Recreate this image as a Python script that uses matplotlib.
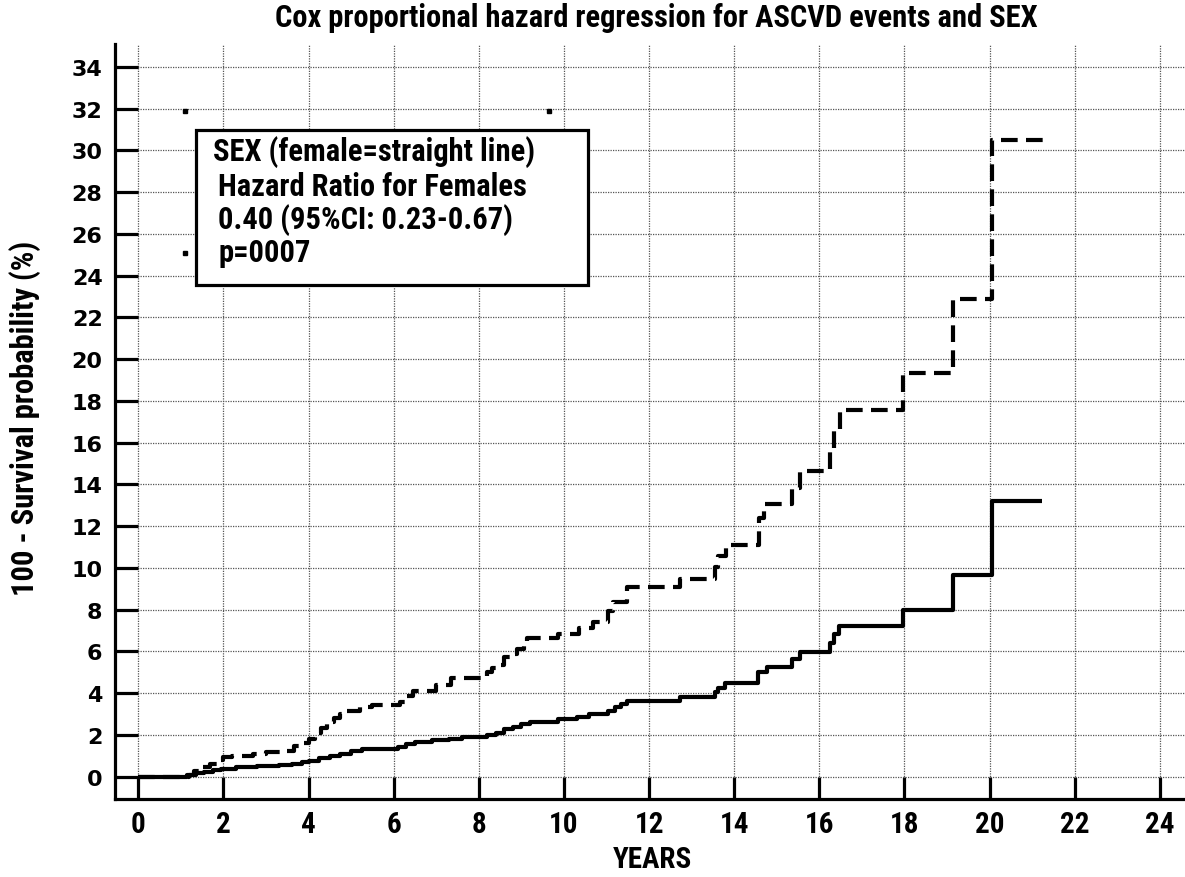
import matplotlib
matplotlib.use("Agg")
import matplotlib.pyplot as plt
from matplotlib.patches import Rectangle

# ---- data ----
female_t = [0, 1.15, 1.35, 1.55, 1.75, 1.95, 2.3, 2.8, 3.3, 3.6, 3.85, 4.0, 4.25, 4.5, 4.75,
            5.0, 5.25, 6.1, 6.3, 6.5, 6.9, 7.3, 7.6, 8.2, 8.4, 8.6, 8.8, 9.0, 9.2, 9.86,
            10.3, 10.6, 11.03, 11.2, 11.35, 11.48, 12.72, 13.55, 13.62, 13.78, 14.56,
            14.77, 15.35, 15.54, 16.25, 16.34, 16.45, 17.96, 19.14, 20.05, 21.22]
female_y = [0, 0.08, 0.16, 0.24, 0.31, 0.37, 0.45, 0.5, 0.55, 0.63, 0.7, 0.77, 0.9, 1.0, 1.1,
            1.25, 1.33, 1.42, 1.55, 1.66, 1.75, 1.81, 1.9, 2.0, 2.1, 2.3, 2.4, 2.5, 2.62, 2.77,
            2.88, 3.0, 3.16, 3.34, 3.5, 3.64, 3.8, 4.05, 4.24, 4.49, 5.03,
            5.27, 5.64, 5.99, 6.39, 6.84, 7.24, 7.99, 9.68, 13.23, 13.23]

male_t = [0, 1.2, 1.3, 1.5, 1.68, 1.85, 2.0, 2.2, 2.7, 3.0, 3.5, 3.65, 3.8, 4.0, 4.15, 4.3,
          4.44, 4.6, 4.75, 4.9, 5.2, 5.5, 6.15, 6.3, 6.45, 7.0, 7.35, 8.2, 8.3, 8.5, 8.6,
          8.75, 8.9, 9.05, 9.13, 9.86, 10.35, 10.68, 11.03, 11.15, 11.48, 12.72, 13.55,
          13.62, 13.8, 14.58, 14.7, 15.35, 15.54, 16.25, 16.35, 16.48, 17.96, 19.14, 20.05, 21.25]
male_y = [0, 0.1, 0.29, 0.45, 0.61, 0.8, 0.94, 1.0, 1.09, 1.2, 1.25, 1.45, 1.6, 1.81, 2.1, 2.35,
          2.62, 2.8, 3.0, 3.16, 3.35, 3.44, 3.57, 3.85, 4.1, 4.4, 4.72, 5.0, 5.2, 5.35, 5.72,
          5.9, 6.12, 6.4, 6.63, 6.85, 7.12, 7.43, 7.96, 8.39, 9.08, 9.48, 10.04,
          10.57, 11.1, 12.4, 13.07, 13.85, 14.62, 15.55, 16.57, 17.55, 19.35, 22.9, 30.49, 30.49]

x_ticks = list(range(0, 25, 2))
y_ticks = list(range(0, 35, 2))

handle_x = [1.1, 9.65, 1.1, 9.65]
handle_y = [31.87, 31.87, 25.1, 25.1]

title = "Cox proportional hazard regression for ASCVD events and SEX"
xlabel = "YEARS"
ylabel = "100 - Survival probability (%)"
box_lines = ["SEX (female=straight line)", "Hazard Ratio for Females",
             "0.40 (95%CI: 0.23-0.67)", "p=0007"]

# ---- fonts ----
COND = ['Roboto Condensed', 'Liberation Sans Narrow', 'Roboto', 'DejaVu Sans']
WIDE = ['DejaVu Sans']

fig = plt.figure(figsize=(11.85, 8.78), dpi=100)
ax = fig.add_axes([115/1185, 1 - 800/878, 1 - 115/1185, (800 - 45)/878])

ax.set_xlim(-0.547, 24.59)
ax.set_ylim(-1.07, 35.1)

ax.set_xticks(x_ticks)
ax.set_yticks(y_ticks)
ax.grid(True, linestyle=(0, (1, 1)), color='#555555', linewidth=0.9)
ax.set_axisbelow(True)

for s in ['top', 'right']:
    ax.spines[s].set_visible(False)
for s in ['left', 'bottom']:
    ax.spines[s].set_linewidth(2.3)
    ax.spines[s].set_color('black')

ax.tick_params(axis='both', direction='in', length=16.2, width=2.3, color='black')
for lab in ax.get_xticklabels():
    lab.set_fontfamily(COND)
    lab.set_fontweight('bold')
    lab.set_fontsize(21)
for lab in ax.get_yticklabels():
    lab.set_fontfamily(WIDE)
    lab.set_fontweight('bold')
    lab.set_fontsize(16)
ax.tick_params(axis='y', pad=9)
ax.tick_params(axis='x', pad=8)

ax.step(female_t, female_y, where='post', color='black', linewidth=3.0, solid_capstyle='butt')
ax.step(male_t, male_y, where='post', color='black', linewidth=3.0,
        linestyle=(0, (4.0, 2.0)), dash_capstyle='butt')

ax.plot(handle_x, handle_y, linestyle='none', marker='s', markersize=3.5, color='black')

# text box
bx0 = (196 - 138.3) / 42.57
bx1 = (588 - 138.3) / 42.57
by0 = (777.7 - 286) / 20.86
by1 = (777.7 - 131) / 20.86
ax.add_patch(Rectangle((bx0, by0), bx1 - bx0, by1 - by0, facecolor='white',
                       edgecolor='black', linewidth=2.3, zorder=5))
line_x = [1.76, 1.88, 1.88, 1.88]
line_y = [29.99, 28.31, 26.73, 25.15]
for tx, ty, s in zip(line_x, line_y, box_lines):
    ax.text(tx, ty, s, ha='left', va='center', fontsize=22, fontweight='bold',
            family=COND, zorder=6)

fig.text(656/1185, 1 - 18/878, title, ha='center', va='center', fontsize=22,
         fontweight='bold', family=COND)
fig.text(652/1185, 1 - 860/878, xlabel, ha='center', va='center', fontsize=21,
         fontweight='bold', family=COND)
fig.text(25/1185, 1 - 418/878, ylabel, ha='center', va='center', rotation=90,
         fontsize=22, fontweight='bold', family=COND)

fig.savefig('out.png', dpi=100)
